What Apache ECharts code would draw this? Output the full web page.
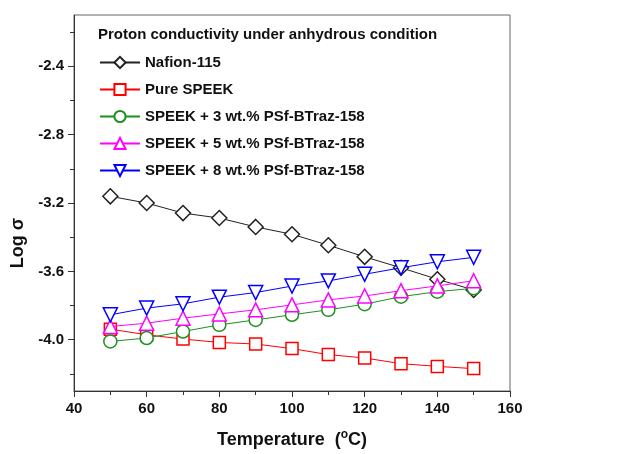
<!DOCTYPE html>
<html><head><meta charset="utf-8">
<script src="https://cdn.jsdelivr.net/npm/echarts@6/dist/echarts.min.js"></script>
<style>html,body{margin:0;padding:0;background:#fff}#c{width:617px;height:454px}</style>
</head><body><div id="c"></div>
<script>
const temperatures = [50, 60, 70, 80, 90, 100, 110, 120, 130, 140, 150];
const nafion = [-3.161, -3.200, -3.259, -3.288, -3.340, -3.383, -3.447, -3.515, -3.579, -3.646, -3.709];
const pureSpeek = [-3.938, -3.971, -3.996, -4.016, -4.025, -4.052, -4.087, -4.107, -4.140, -4.156, -4.169];
const speek3 = [-4.010, -3.990, -3.952, -3.913, -3.884, -3.854, -3.825, -3.792, -3.748, -3.719, -3.699];
const speek5 = [-3.923, -3.903, -3.874, -3.849, -3.825, -3.796, -3.767, -3.744, -3.713, -3.685, -3.655];
const speek8 = [-3.854, -3.815, -3.790, -3.751, -3.724, -3.686, -3.656, -3.617, -3.579, -3.544, -3.518];
const seriesNames = ['Nafion-115', 'Pure SPEEK', 'SPEEK + 3 wt.% PSf-BTraz-158', 'SPEEK + 5 wt.% PSf-BTraz-158', 'SPEEK + 8 wt.% PSf-BTraz-158'];
const yLabelTicks = [-4.0, -3.6, -3.2, -2.8, -2.4];
const yMinorTicks = [-4.2, -3.8, -3.4, -3.0, -2.6, -2.2];
const titleText = 'Proton conductivity under anhydrous condition';

const FONT = '"Liberation Sans", Arial, sans-serif';
const colors = ['#222222', '#ff0000', '#1f8f1f', '#ff00ff', '#0000ff'];
const symbols = ['diamond', 'rect', 'circle', 'triangle', 'path://M0,0L2,0L1,1.732Z'];
const sizes = [15, 12, 13, 14, 14];
const allData = [nafion, pureSpeek, speek3, speek5, speek8];

const chart = echarts.init(document.getElementById('c'), null, {renderer: 'canvas'});
chart.setOption({
  animation: false,
  backgroundColor: '#fff',
  title: {text: titleText, left: 93, top: 22, textStyle: {fontFamily: FONT, fontWeight: 'bold', fontSize: 15, color: '#111'}},
  legend: {
    orient: 'vertical', left: 94, top: 50, itemWidth: 40, itemHeight: 14, itemGap: 12,
    selectedMode: false,
    textStyle: {fontFamily: FONT, fontWeight: 'bold', fontSize: 15, color: '#111'},
    data: seriesNames
  },
  grid: {left: 74, right: 107, top: 15, bottom: 62, show: true, borderColor: '#666', borderWidth: 1},
  xAxis: {
    type: 'value', min: 40, max: 160, interval: 20,
    name: 'Temperature  ({sup|o}C)', nameLocation: 'middle', nameGap: 38,
    nameTextStyle: {fontFamily: FONT, fontWeight: 'bold', fontSize: 18, color: '#111',
      rich: {sup: {fontFamily: FONT, fontWeight: 'bold', fontSize: 12, color: '#111', verticalAlign: 'bottom', padding: [0, 0, 10, 0]}}},
    axisLine: {show: true, lineStyle: {color: '#333', width: 1}},
    axisTick: {show: true, inside: false, length: 6, lineStyle: {color: '#333'}},
    minorTick: {show: true, splitNumber: 2, length: 4, lineStyle: {color: '#333'}},
    splitLine: {show: false},
    axisLabel: {fontFamily: FONT, fontWeight: 'bold', fontSize: 15, color: '#111', margin: 10}
  },
  yAxis: [{
    type: 'value', min: -4.3, max: -2.1,
    name: 'Log σ', nameLocation: 'middle', nameGap: 36, nameRotate: 90,
    nameTextStyle: {fontFamily: FONT, fontWeight: 'bold', fontSize: 18, color: '#111', padding: [0, 80, 0, 0]},
    axisLine: {show: true, lineStyle: {color: '#333', width: 1}},
    axisTick: {show: true, inside: false, length: 6, customValues: yLabelTicks, lineStyle: {color: '#333'}},
    splitLine: {show: false},
    axisLabel: {fontFamily: FONT, fontWeight: 'bold', fontSize: 15, color: '#111', margin: 10,
      customValues: yLabelTicks, formatter: v => v.toFixed(1)}
  }, {
    type: 'value', min: -4.3, max: -2.1, position: 'left',
    axisLine: {show: false},
    axisTick: {show: true, inside: false, length: 4, customValues: yMinorTicks, lineStyle: {color: '#333'}},
    axisLabel: {show: false, customValues: yMinorTicks},
    splitLine: {show: false}
  }],
  series: seriesNames.map((name, i) => ({
    name: name, type: 'line', yAxisIndex: 0,
    data: temperatures.map((t, j) => [t, allData[i][j]]),
    symbol: symbols[i], symbolSize: sizes[i], showAllSymbol: true,
    lineStyle: {color: colors[i], width: 1},
    itemStyle: {color: '#fff', borderColor: colors[i], borderWidth: 1.5},
    z: 2 + i
  }))
});
</script></body></html>
